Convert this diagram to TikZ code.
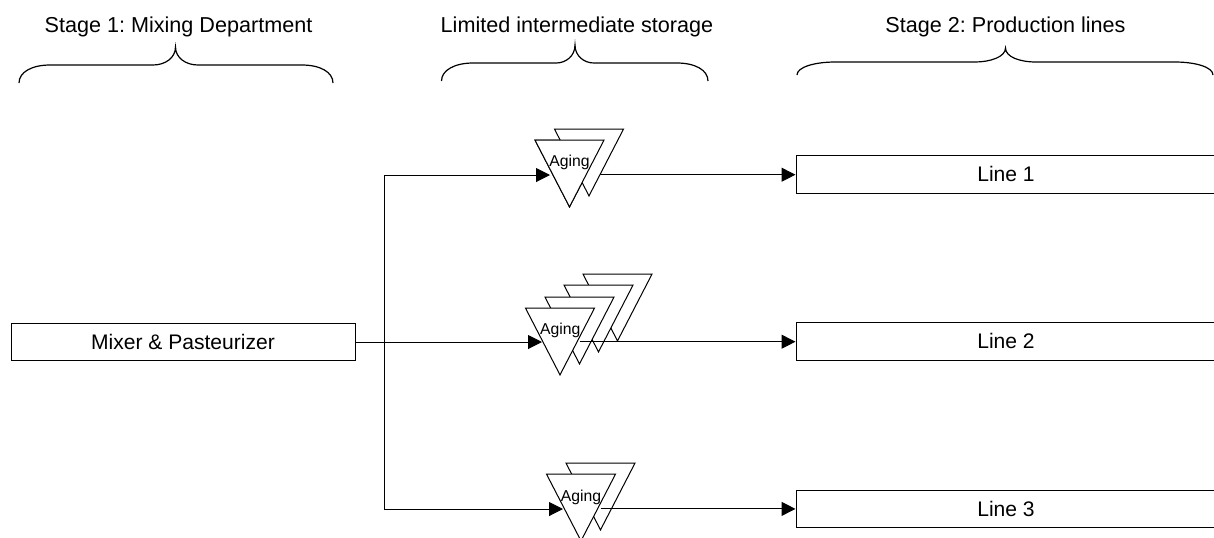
\documentclass[tikz,border=0pt]{standalone}
\usepackage{fontspec}
\setmainfont{Liberation Sans}
\usetikzlibrary{arrows.meta,shapes.geometric}
\frenchspacing
\tikzset{
  x=0.75pt,y=-0.75pt,
  box/.style={draw,fill=white,line width=0.75pt,minimum height=28.2pt,inner sep=0pt,text depth=0.8pt,font=\fontsize{15.8}{18}\selectfont},
  tri/.style={draw,fill=white,line width=0.75pt,isosceles triangle,isosceles triangle apex angle=54,isosceles triangle stretches,shape border rotate=-90,minimum width=51.75pt,minimum height=50.1pt,inner sep=0pt,anchor=apex},
  agingtext/.style={font=\fontsize{11.8}{13}\selectfont,inner sep=0pt},
  head/.style={font=\fontsize{16.2}{18}\selectfont,inner sep=0pt},
  wire/.style={line width=0.75pt,-{Triangle[length=10.5pt,width=10.5pt]}},
  bracecurve/.style={line width=0.9pt}
}
\begin{document}
\begin{tikzpicture}
\useasboundingbox (0,0) rectangle (1214,537);
\clip (0,0) rectangle (1214,537);
% boxes
\node[box,minimum width=258pt] (mixer) at (183,342) {Mixer \& Pasteurizer};
\node[box,minimum width=315pt,anchor=west] (l1) at (795.5,174.7) {Line 1};
\node[box,minimum width=315pt,anchor=west] (l2) at (795.5,341.7) {Line 2};
\node[box,minimum width=315pt,anchor=west] (l3) at (795.5,508.9) {Line 3};
% headers
\node[head] (h1) at (178.5,27) {Stage 1: Mixing Department};
\node[head] (h2) at (577,27) {Limited intermediate storage};
\node[head] (h3) at (1005.5,27) {Stage 2: Production lines};
% braces
\coordinate (b1) at (175.5,47);
\coordinate (b2) at (575,45);
\coordinate (b3) at (1005.5,48);
\draw[bracecurve] (19,83) .. controls (19,72) and (32,65) .. (50,65) -- (153,65) .. controls (165,65) and (175.5,58) .. (b1) .. controls (175.5,58) and (186,65) .. (198,65) -- (302,65) .. controls (320,65) and (333,72) .. (333,83);
\draw[bracecurve] (441.5,81) .. controls (441.5,70) and (455,63) .. (473,63) -- (556,63) .. controls (566,63) and (575,56) .. (b2) .. controls (575,56) and (584,63) .. (594,63) -- (677,63) .. controls (695,63) and (708,70) .. (708,81);
\draw[bracecurve] (797,75) .. controls (797,67) and (815,62) .. (835,62) -- (975,62) .. controls (990,62) and (1005.5,57) .. (b3) .. controls (1005.5,57) and (1020,62) .. (1036,62) -- (1175,62) .. controls (1195,62) and (1213,67) .. (1213,75);
% junction
\coordinate (j) at (384,342);
% triangles with their outgoing wires
\node[tri] (a1c) at (569.5,208) {};
\draw[wire] (a1c.center |- l1.west) -- (l1.west);
\node[tri] (a1b) at (589,197) {};
\node[tri] (a1) at (569.5,208) {};
\node[tri] (a2d) at (617.5,342) {};
\node[tri] (a2c) at (598.5,353) {};
\node[tri] (a2b) at (579.5,365) {};
\draw[wire] (a2b.center |- l2.west) -- (l2.west);
\node[tri] (a2) at (560,376) {};
\node[tri] (a3b) at (600.5,531) {};
\draw[wire] (a3b.center |- l3.west) -- (l3.west);
\node[tri] (a3) at (581,542) {};
% incoming wires
\coordinate (e1) at (550,175);
\coordinate (e2) at (542,342);
\coordinate (e3) at (563,509);
\draw[wire] (mixer.east) -- (j) |- (e1);
\draw[wire] (mixer.east) -- (e2);
\draw[wire] (mixer.east) -- (j) |- (e3);
\node[agingtext] (t1) at (569.5,162) {Aging};
\node[agingtext] (t2) at (560.3,330.5) {Aging};
\node[agingtext] (t3) at (581,497) {Aging};
\end{tikzpicture}
\end{document}
